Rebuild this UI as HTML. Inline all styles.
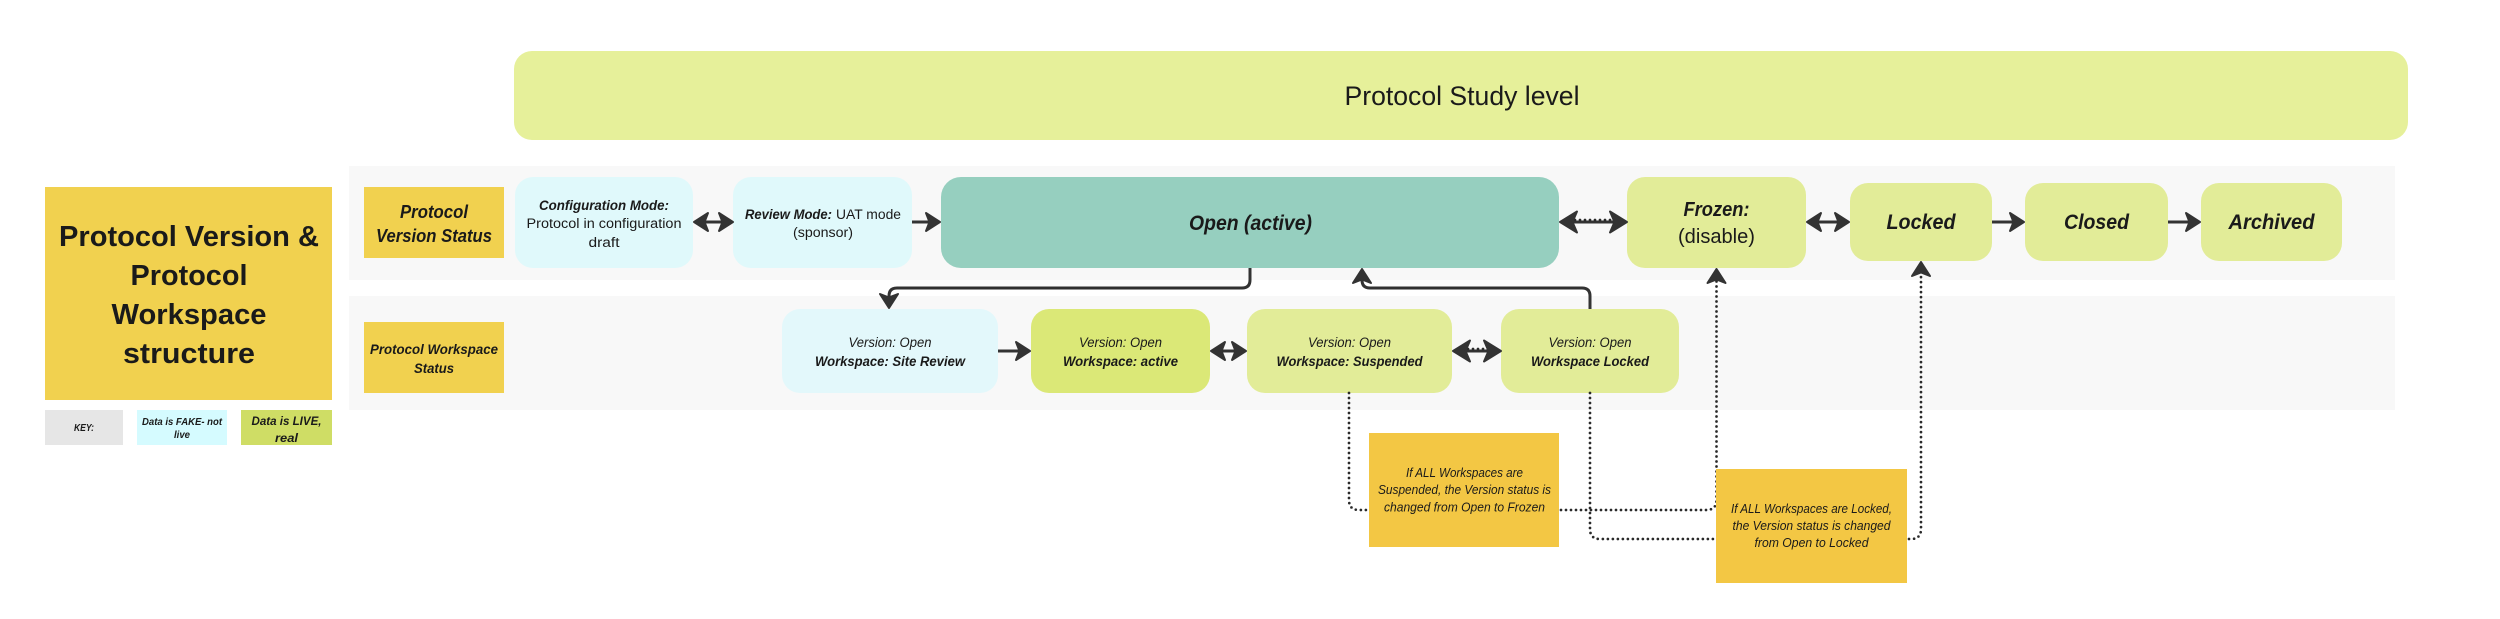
<!DOCTYPE html>
<html><head><meta charset="utf-8"><style>
html,body{margin:0;padding:0;background:#fff}
svg{display:block}
text{font-family:"Liberation Sans",sans-serif;fill:#1a1a1a;text-anchor:middle}
.bi{font-weight:bold;font-style:italic}
.i{font-style:italic}
.b{font-weight:bold}
.l{fill:none;stroke:#333;stroke-width:3}
.d{fill:none;stroke:#2a2a2a;stroke-width:2.7;stroke-dasharray:0 5;stroke-linecap:round}
</style></head><body>
<svg xmlns="http://www.w3.org/2000/svg" width="2500" height="619" viewBox="0 0 2500 619">
<defs>
<path id="h" d="M-1 0 L-15 -9 L-11.500 0 L-15 9Z" fill="#333" stroke="#333" stroke-width="2" stroke-linejoin="round"/>
<path id="g" d="M-1 0 L-18 -10.500 L-13.500 0 L-18 10.500Z" fill="#333" stroke="#333" stroke-width="2" stroke-linejoin="round"/>
</defs>
<rect width="2500" height="619" fill="#fff"/>

<!-- backgrounds -->
<rect x="349" y="166" width="2046" height="114" fill="#f8f8f8"/>
<rect x="349" y="296" width="2046" height="114" fill="#f8f8f8"/>

<!-- top band -->
<rect x="514" y="51" width="1894" height="89" rx="18" fill="#e6f09a"/>
<text x="1462" y="105" font-size="27" textLength="235" lengthAdjust="spacingAndGlyphs">Protocol Study level</text>

<!-- left panel -->
<rect x="45" y="187" width="287" height="213" fill="#f1d14f"/>
<text class="b" x="189" y="246" font-size="29" textLength="260" lengthAdjust="spacingAndGlyphs">Protocol Version &amp;</text>
<text class="b" x="189" y="285" font-size="29" textLength="117" lengthAdjust="spacingAndGlyphs">Protocol</text>
<text class="b" x="189" y="324" font-size="29" textLength="155" lengthAdjust="spacingAndGlyphs">Workspace</text>
<text class="b" x="189" y="363" font-size="29" textLength="132" lengthAdjust="spacingAndGlyphs">structure</text>

<rect x="45" y="410" width="78" height="35" fill="#e6e6e6"/>
<text class="bi" x="84" y="431" font-size="10" textLength="20" lengthAdjust="spacingAndGlyphs">KEY:</text>
<rect x="137" y="410" width="90" height="35" fill="#d5fbff"/>
<text class="bi" x="182" y="425" font-size="10" textLength="80" lengthAdjust="spacingAndGlyphs">Data is FAKE- not</text>
<text class="bi" x="182" y="438" font-size="10" textLength="16" lengthAdjust="spacingAndGlyphs">live</text>
<rect x="241" y="410" width="91" height="35" fill="#cfdd65"/>
<text class="bi" x="286.500" y="425" font-size="12" textLength="70" lengthAdjust="spacingAndGlyphs">Data is LIVE,</text>
<text class="bi" x="286.500" y="442" font-size="12" textLength="23" lengthAdjust="spacingAndGlyphs">real</text>

<!-- row labels -->
<rect x="364" y="187" width="140" height="71" fill="#f1d14f"/>
<text class="bi" x="434" y="218" font-size="18" textLength="68" lengthAdjust="spacingAndGlyphs">Protocol</text>
<text class="bi" x="434" y="242" font-size="18" textLength="116" lengthAdjust="spacingAndGlyphs">Version Status</text>
<rect x="364" y="322" width="140" height="71" fill="#f1d14f"/>
<text class="bi" x="434" y="354" font-size="14" textLength="128" lengthAdjust="spacingAndGlyphs">Protocol Workspace</text>
<text class="bi" x="434" y="373" font-size="14" textLength="40" lengthAdjust="spacingAndGlyphs">Status</text>

<!-- version row nodes -->
<rect x="515" y="177" width="178" height="91" rx="18" fill="#e0f9fb"/>
<text class="bi" x="604" y="210" font-size="13.500" textLength="130" lengthAdjust="spacingAndGlyphs">Configuration Mode:</text>
<text x="604" y="228" font-size="13.500" textLength="155" lengthAdjust="spacingAndGlyphs">Protocol in configuration</text>
<text x="604" y="247" font-size="13.500" textLength="31" lengthAdjust="spacingAndGlyphs">draft</text>

<rect x="733" y="177" width="179" height="91" rx="18" fill="#e0f9fb"/>
<text class="bi" x="788.500" y="219" font-size="13.500" textLength="87" lengthAdjust="spacingAndGlyphs">Review Mode:</text>
<text x="868.500" y="219" font-size="13.500" textLength="65" lengthAdjust="spacingAndGlyphs">UAT mode</text>
<text x="823" y="237" font-size="13.500" textLength="60" lengthAdjust="spacingAndGlyphs">(sponsor)</text>

<rect x="941" y="177" width="618" height="91" rx="20" fill="#96cfbf"/>
<text class="bi" x="1250.500" y="230" font-size="21" textLength="123" lengthAdjust="spacingAndGlyphs">Open (active)</text>

<rect x="1627" y="177" width="179" height="91" rx="18" fill="#e2ec98"/>
<text class="bi" x="1716.500" y="216" font-size="20" textLength="66" lengthAdjust="spacingAndGlyphs">Frozen:</text>
<text x="1716.500" y="243" font-size="20" textLength="77" lengthAdjust="spacingAndGlyphs">(disable)</text>

<rect x="1850" y="183" width="142" height="78" rx="18" fill="#e2ec98"/>
<text class="bi" x="1921" y="229" font-size="21" textLength="69" lengthAdjust="spacingAndGlyphs">Locked</text>
<rect x="2025" y="183" width="143" height="78" rx="18" fill="#e2ec98"/>
<text class="bi" x="2096.500" y="229" font-size="21" textLength="65" lengthAdjust="spacingAndGlyphs">Closed</text>
<rect x="2201" y="183" width="141" height="78" rx="18" fill="#e2ec98"/>
<text class="bi" x="2271.500" y="229" font-size="21" textLength="86" lengthAdjust="spacingAndGlyphs">Archived</text>

<!-- workspace row nodes -->
<rect x="782" y="309" width="216" height="84" rx="18" fill="#e3f8fb"/>
<text class="i" x="890" y="347" font-size="13.500" textLength="83" lengthAdjust="spacingAndGlyphs">Version: Open</text>
<text class="bi" x="890" y="366" font-size="13.500" textLength="150" lengthAdjust="spacingAndGlyphs">Workspace: Site Review</text>

<rect x="1031" y="309" width="179" height="84" rx="18" fill="#dbe877"/>
<text class="i" x="1120.500" y="347" font-size="13.500" textLength="83" lengthAdjust="spacingAndGlyphs">Version: Open</text>
<text class="bi" x="1120.500" y="366" font-size="13.500" textLength="115" lengthAdjust="spacingAndGlyphs">Workspace: active</text>

<rect x="1247" y="309" width="205" height="84" rx="18" fill="#e2ec98"/>
<text class="i" x="1349.500" y="347" font-size="13.500" textLength="83" lengthAdjust="spacingAndGlyphs">Version: Open</text>
<text class="bi" x="1349.500" y="366" font-size="13.500" textLength="146" lengthAdjust="spacingAndGlyphs">Workspace: Suspended</text>

<rect x="1501" y="309" width="178" height="84" rx="18" fill="#e2ec98"/>
<text class="i" x="1590" y="347" font-size="13.500" textLength="83" lengthAdjust="spacingAndGlyphs">Version: Open</text>
<text class="bi" x="1590" y="366" font-size="13.500" textLength="118" lengthAdjust="spacingAndGlyphs">Workspace Locked</text>

<!-- straight arrows -->
<path class="l" d="M697 222H730"/>
<use href="#h" transform="translate(734 222)"/><use href="#h" transform="translate(693 222) rotate(180)"/>
<path class="l" d="M912 222H938"/><use href="#h" transform="translate(941 222)"/>
<path class="l" d="M1565 222H1621"/><path class="d" d="M1565 220H1621"/>
<use href="#g" transform="translate(1628 222)"/><use href="#g" transform="translate(1559 222) rotate(180)"/>
<path class="l" d="M1810 222H1846"/>
<use href="#h" transform="translate(1850 222)"/><use href="#h" transform="translate(1806 222) rotate(180)"/>
<path class="l" d="M1992 222H2022"/><use href="#h" transform="translate(2025 222)"/>
<path class="l" d="M2168 222H2198"/><use href="#h" transform="translate(2201 222)"/>
<path class="l" d="M998 351H1028"/><use href="#h" transform="translate(1031 351)"/>
<path class="l" d="M1214 351H1243"/>
<use href="#h" transform="translate(1247 351)"/><use href="#h" transform="translate(1210 351) rotate(180)"/>
<path class="l" d="M1458 351H1495"/><path class="d" d="M1458 349H1495"/>
<use href="#g" transform="translate(1502 351)"/><use href="#g" transform="translate(1452 351) rotate(180)"/>

<!-- elbow solid -->
<path class="l" d="M1250 268V280Q1250 288 1242 288H897Q889 288 889 296V305"/>
<use href="#h" transform="translate(889 309) rotate(90)"/>
<path class="l" d="M1590 309V296Q1590 288 1582 288H1370Q1362 288 1362 280V272"/>
<use href="#h" transform="translate(1362 268) rotate(-90)"/>

<!-- dotted -->
<path class="d" d="M1349 393V500Q1349 510 1359 510H1369"/>
<path class="d" d="M1561 510H1706Q1716.500 510 1716.500 500V280"/>
<use href="#h" transform="translate(1716.500 268) rotate(-90)"/>
<path class="d" d="M1590 393V529Q1590 539 1600 539H1716"/>
<path class="d" d="M1909 539H1911Q1921 539 1921 529V273"/>
<use href="#h" transform="translate(1921 261) rotate(-90)"/>

<!-- notes -->
<rect x="1369" y="433" width="190" height="114" fill="#f3c744"/>
<text class="i" x="1464.500" y="477" font-size="12.500" textLength="117" lengthAdjust="spacingAndGlyphs">If ALL Workspaces are</text>
<text class="i" x="1464.500" y="494" font-size="12.500" textLength="173" lengthAdjust="spacingAndGlyphs">Suspended, the Version status is</text>
<text class="i" x="1464.500" y="511.700" font-size="12.500" textLength="161" lengthAdjust="spacingAndGlyphs">changed from Open to Frozen</text>

<rect x="1716" y="469" width="191" height="114" fill="#f3c744"/>
<text class="i" x="1811.500" y="513" font-size="12.500" textLength="161" lengthAdjust="spacingAndGlyphs">If ALL Workspaces are Locked,</text>
<text class="i" x="1811.500" y="530" font-size="12.500" textLength="158" lengthAdjust="spacingAndGlyphs">the Version status is changed</text>
<text class="i" x="1811.500" y="547" font-size="12.500" textLength="114" lengthAdjust="spacingAndGlyphs">from Open to Locked</text>
</svg>
</body></html>
